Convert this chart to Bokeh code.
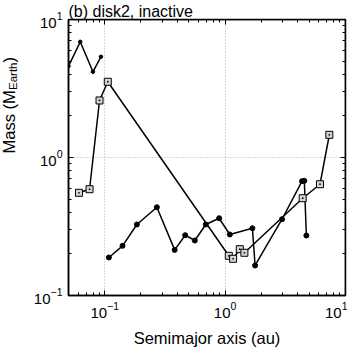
import math
from bokeh.plotting import figure
from bokeh.layouts import row
from bokeh.models import (LogAxis, Label, CustomJSTickFormatter, FixedTicker,
                          Range1d, LogTickFormatter)
from bokeh.embed import file_html
from bokeh.resources import INLINE

# ---- data (semimajor axis [au], mass [M_Earth]) ----
a_top = [0.05, 0.0626, 0.0798, 0.093]
m_top = [4.59, 6.89, 4.18, 5.37]

a_sq = [0.0611, 0.0748, 0.0905, 0.106, 1.073, 1.165, 1.324, 1.446, 4.41, 6.14, 7.34]
m_sq = [0.555, 0.589, 2.59, 3.54, 0.194, 0.1845, 0.2166, 0.204, 0.507, 0.640, 1.46]

a_dot = [0.1083, 0.1405, 0.185, 0.271, 0.381, 0.466, 0.560, 0.691, 0.892, 1.094,
         1.685, 1.774, 2.97, 4.355, 4.55, 4.73]
m_dot = [0.1886, 0.229, 0.327, 0.436, 0.214, 0.2735, 0.2503, 0.327, 0.363, 0.2767,
         0.307, 0.165, 0.357, 0.674, 0.678, 0.272]

x_major = [0.1, 1, 10]
x_minor = [0.05, 0.06, 0.07, 0.08, 0.09, 0.2, 0.3, 0.4, 0.5, 0.6, 0.7, 0.8, 0.9,
           2, 3, 4, 5, 6, 7, 8, 9]
y_major = [0.1, 1, 10]
y_minor = [0.2, 0.3, 0.4, 0.5, 0.6, 0.7, 0.8, 0.9, 2, 3, 4, 5, 6, 7, 8, 9]

title_text = "(b) disk2, inactive"
xlabel_text = "Semimajor axis (au)"
ylabel_parts = ["Mass (M", "Earth", ")"]

FONT = "Liberation Sans"
LW = 30  # width of the y-label strip

# ---- main plot ----
p = figure(frame_width=277, frame_height=276, x_axis_type="log", y_axis_type="log",
           x_range=Range1d(0.05, 10), y_range=Range1d(0.1, 10),
           output_backend="svg", toolbar_location=None,
           min_border_left=69 - 8 - 26, min_border_right=2, min_border_top=10,
           min_border_bottom=0)
p.outline_line_color = "black"
p.outline_line_width = 1.5
p.background_fill_color = "white"
p.border_fill_color = "white"

p.title.text = title_text
p.title.text_font = FONT
p.title.text_font_size = "16px"
p.title.text_font_style = "normal"
p.title.text_color = "black"
p.title.align = "left"
p.title.standoff = 0
p.title.offset = 0

xt = FixedTicker(ticks=x_major, minor_ticks=x_minor)
yt = FixedTicker(ticks=y_major, minor_ticks=y_minor)


def style_axis(ax, show_labels):
    ax.axis_line_color = "black"
    ax.axis_line_width = 1.5
    ax.major_tick_line_color = "black"
    ax.minor_tick_line_color = "black"
    ax.major_tick_line_width = 1
    ax.minor_tick_line_width = 1
    ax.major_tick_in = 5
    ax.major_tick_out = 0
    ax.minor_tick_in = 3
    ax.minor_tick_out = 0
    if show_labels:
        ax.major_label_text_font = FONT
        ax.major_label_text_font_size = "15px"
        ax.major_label_text_color = "black"
    else:
        ax.formatter = CustomJSTickFormatter(code="return ''")
        ax.major_label_standoff = 0


p.xaxis.ticker = xt
p.yaxis.ticker = yt
p.xaxis.formatter = LogTickFormatter()
p.yaxis.formatter = LogTickFormatter()
style_axis(p.xaxis[0], True)
style_axis(p.yaxis[0], True)
p.xaxis.major_label_standoff = 6
p.yaxis.major_label_standoff = 6
p.xaxis.axis_label = xlabel_text
p.xaxis.axis_label_text_font = FONT
p.xaxis.axis_label_text_font_size = "16.5px"
p.xaxis.axis_label_text_font_style = "normal"
p.xaxis.axis_label_text_color = "black"
p.xaxis.axis_label_standoff = 8

# mirrored tick axes on top and right, pinned to the frame edges (take no space)
top_ax = LogAxis(ticker=xt, fixed_location=10)
style_axis(top_ax, False)
p.add_layout(top_ax, "above")
right_ax = LogAxis(ticker=yt, fixed_location=10)
style_axis(right_ax, False)
p.add_layout(right_ax, "right")

p.xgrid.ticker = xt
p.ygrid.ticker = yt
for g in (p.xgrid, p.ygrid):
    g.grid_line_color = "#b0b0b0"
    g.grid_line_dash = "1 2"
    g.grid_line_width = 1
    g.minor_grid_line_color = None

p.line(a_top, m_top, line_color="black", line_width=1.5)
p.scatter(a_top, m_top, marker="circle", size=3.5, fill_color="black", line_color="black")

p.line(a_dot, m_dot, line_color="black", line_width=1.5)
p.scatter(a_dot, m_dot, marker="circle", size=5, fill_color="black", line_color="black")

p.line(a_sq, m_sq, line_color="black", line_width=1.5)
p.scatter(a_sq, m_sq, marker="square_dot", size=7, fill_color="#d4d4d4",
          line_color="black", line_width=1)

# ---- y-label strip (rotated text with subscript) ----
H = 337
q = figure(width=LW, height=H, output_backend="svg", toolbar_location=None,
           x_range=Range1d(0, LW), y_range=Range1d(0, H),
           min_border=0, min_border_left=0, min_border_right=0,
           min_border_top=0, min_border_bottom=0)
q.axis.visible = False
q.grid.visible = False
q.outline_line_color = None
q.background_fill_color = "white"
q.border_fill_color = "white"

ang = math.pi / 2
y0 = 130
w_main = 63.5
w_sub = 27.5
specs = [(ylabel_parts[0], 8, y0, "16.5px"),
         (ylabel_parts[1], 12, y0 + w_main, "11.5px"),
         (ylabel_parts[2], 8, y0 + w_main + w_sub, "16.5px")]
for txt, xx, yy, fs in specs:
    q.add_layout(Label(x=xx, y=yy, x_units="screen", y_units="screen", text=txt,
                       angle=ang, text_font=FONT, text_font_size=fs, text_color="black",
                       text_align="left", text_baseline="alphabetic"))

layout = row(q, p, spacing=0)
open("out.html", "w").write(file_html(layout, INLINE))
